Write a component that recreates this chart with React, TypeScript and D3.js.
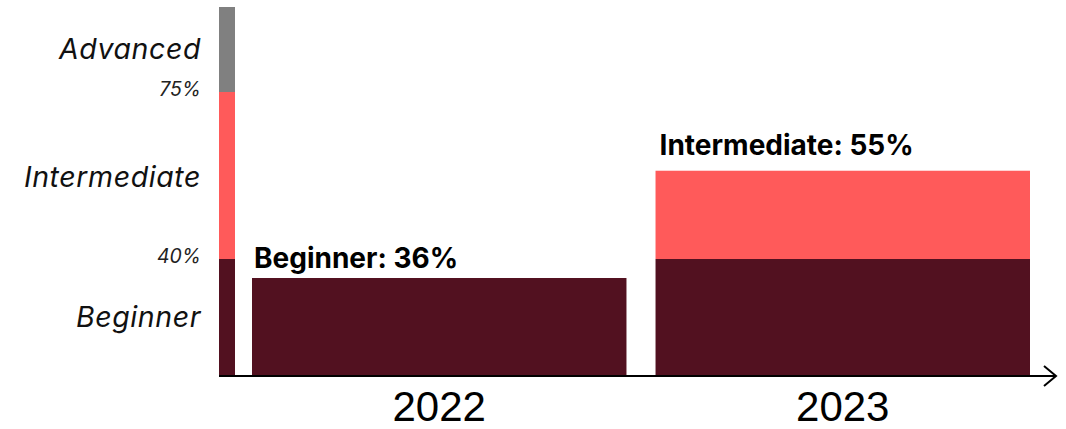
import React from "react";
import * as d3 from "d3";

// ---- data ----
const levels = ["Beginner", "Intermediate", "Advanced"];
const levelBounds = [0, 40, 75, 100]; // % thresholds of the level bands
const thresholdLabels = ["40%", "75%"];
const years = ["2022", "2023"];
// bar top (in level-scale units), stacked by level
const beginnerPart = [33.5, 40];
const intermediatePart = [0, 18.5];
const barLabels = ["Beginner: 36%", "Intermediate: 55%"];

const colors = ["#521120", "#ff5a5a", "#808080"];

const W = 1066;
const H = 429;

export default function App() {
  const y = d3.scaleLinear().domain(levelBounds).range([376, 259, 92, 7]);
  const x = d3.scaleBand<string>().domain(years).range([252, 1030]).paddingInner(0.072);
  const bandX0 = 219;
  const bandW = 16;
  const labelFont = "Inter, 'Noto Sans', sans-serif";
  const labelGap = [10, 16];

  return (
    <svg width={W} height={H} style={{ position: "absolute", left: 0, top: 0 }}>
      {/* level band bar */}
      {levels.map((lv, i) => (
        <rect
          key={lv}
          x={bandX0}
          y={y(levelBounds[i + 1])}
          width={bandW}
          height={y(levelBounds[i]) - y(levelBounds[i + 1])}
          fill={colors[i]}
        />
      ))}
      {/* level names */}
      {levels.map((lv, i) => (
        <text
          key={lv}
          x={201}
          y={(y(levelBounds[i]) + y(levelBounds[i + 1])) / 2 + (i === 1 ? 11.5 : 9)}
          textAnchor="end"
          fontFamily={labelFont}
          fontStyle="italic"
          fontSize={28.5}
          letterSpacing={0.6}
          fill="#111"
        >
          {lv}
        </text>
      ))}
      {/* threshold labels */}
      {thresholdLabels.map((t, i) => (
        <text
          key={t}
          x={201}
          y={y(levelBounds[i + 1]) + 3.5}
          textAnchor="end"
          fontFamily={labelFont}
          fontStyle="italic"
          fontSize={19.5}
          fill="#222"
        >
          {t}
        </text>
      ))}
      {/* bars */}
      {years.map((yr, i) => (
        <g key={yr}>
          <rect
            x={x(yr)}
            y={y(beginnerPart[i])}
            width={x.bandwidth()}
            height={y(0) - y(beginnerPart[i])}
            fill={colors[0]}
          />
          {intermediatePart[i] > 0 && (
            <rect
              x={x(yr)}
              y={y(beginnerPart[i] + intermediatePart[i])}
              width={x.bandwidth()}
              height={y(beginnerPart[i]) - y(beginnerPart[i] + intermediatePart[i])}
              fill={colors[1]}
            />
          )}
          <text
            x={(x(yr) as number) + 2 + i * 2}
            y={y(beginnerPart[i] + intermediatePart[i]) - labelGap[i]}
            fontFamily={labelFont}
            fontWeight={700}
            fontSize={28}
            fill="#000"
          >
            {barLabels[i]}
          </text>
          <text
            x={(x(yr) as number) + x.bandwidth() / 2}
            y={421}
            textAnchor="middle"
            fontFamily="'Liberation Sans', Arial, sans-serif"
            fontSize={42}
            fill="#000"
          >
            {yr}
          </text>
        </g>
      ))}
      {/* axis with arrow */}
      <line x1={219} x2={1056} y1={y(0)} y2={y(0)} stroke="#000" strokeWidth={2} />
      <polyline
        points={`1044,366 1056,${y(0)} 1044,386`}
        fill="none"
        stroke="#000"
        strokeWidth={2}
      />
    </svg>
  );
}
